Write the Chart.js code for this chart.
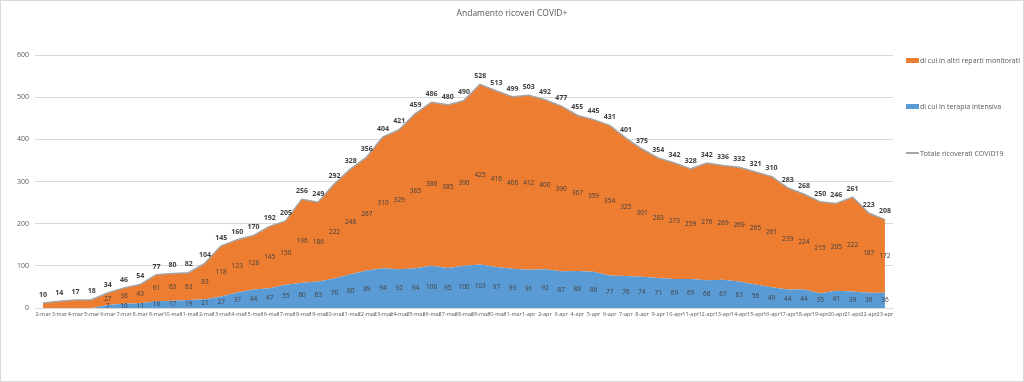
<!DOCTYPE html>
<html>
<head>
<meta charset="utf-8">
<script src="https://cdn.jsdelivr.net/npm/chart.js@4/dist/chart.umd.min.js"></script>
<style>
  html, body { margin: 0; padding: 0; background: #fff; }
  #wrap { position: relative; width: 1024px; height: 382px; box-sizing: border-box; border: 1px solid #d9d9d9; }
  #chart { position: absolute; left: 0; top: 0; }
  #title { position: absolute; left: 0; width: 1022px; top: 6px; text-align: center; font: 8.5px 'Open Sans', sans-serif; color: #595959; }
  .leg { position: absolute; left: 905px; font: 7px 'Open Sans', sans-serif; color: #595959; white-space: nowrap; }
  .leg i { display: inline-block; width: 13px; height: 5px; margin-right: 1px; vertical-align: 0px; }
  .leg i.line { height: 2px; vertical-align: 2px; }
</style>
</head>
<body>
<div id="wrap">
  <canvas id="chart" width="1022" height="380"></canvas>
  <div id="title">Andamento ricoveri COVID+</div>
  <div class="leg" style="top:55px"><i style="background:#ED7D31"></i>di cui in altri reparti monitorati</div>
  <div class="leg" style="top:101px"><i style="background:#5B9BD5"></i>di cui in terapia intensiva</div>
  <div class="leg" style="top:148px"><i class="line" style="background:#A5A5A5"></i>Totale ricoverati COVID19</div>
</div>
<script>
const dates = [
  '2-mar','3-mar','4-mar','5-mar','6-mar','7-mar','8-mar','9-mar','10-mar','11-mar','12-mar','13-mar','14-mar','15-mar','16-mar',
  '17-mar','18-mar','19-mar','20-mar','21-mar','22-mar','23-mar','24-mar','25-mar','26-mar','27-mar','28-mar','29-mar','30-mar','31-mar',
  '1-apr','2-apr','3-apr','4-apr','5-apr','6-apr','7-apr','8-apr','9-apr','10-apr','11-apr','12-apr','13-apr','14-apr','15-apr',
  '16-apr','17-apr','18-apr','19-apr','20-apr','21-apr','22-apr','23-apr'
];

const totale = [10,14,17,18,34,46,54,77,80,82,104,145,160,170,192,205,256,249,292,328,356,404,421,459,486,480,490,528,513,499,
  503,492,477,455,445,431,401,375,354,342,328,342,336,332,321,310,283,268,250,246,261,223,208];

const terapiaIntensiva = [0,0,0,0,7,10,11,16,17,19,21,27,37,44,47,55,60,63,70,80,89,94,92,94,100,95,100,103,97,93,
  91,92,87,88,86,77,76,74,71,69,69,66,67,63,56,49,44,44,35,41,39,36,36];

const altriReparti = [10,14,17,18,27,36,43,61,63,63,83,118,123,126,145,150,196,186,222,248,267,310,329,365,386,385,390,425,416,406,
  412,400,390,367,359,354,325,301,283,273,259,276,269,269,265,261,239,224,215,205,222,187,172];

const yTicks = [0, 100, 200, 300, 400, 500, 600];

// value labels drawn on the points
const valueLabels = {
  id: 'valueLabels',
  afterDatasetsDraw(chart) {
    const ctx = chart.ctx;
    const base = chart.scales.y.getPixelForValue(0);
    const icu = chart.getDatasetMeta(0).data;
    const alt = chart.getDatasetMeta(1).data;
    const tot = chart.getDatasetMeta(2).data;
    ctx.save();
    ctx.textAlign = 'center';
    ctx.textBaseline = 'middle';
    ctx.fillStyle = '#404040';
    tot.forEach((p, i) => {
      ctx.font = 'bold 7px "Open Sans", sans-serif';
      ctx.fillText(totale[i], p.x, p.y - 9);
      if (terapiaIntensiva[i] > 0) {
        ctx.font = '6.5px "Open Sans", sans-serif';
        ctx.fillText(altriReparti[i], alt[i].x, (alt[i].y + icu[i].y) / 2);
        ctx.fillText(terapiaIntensiva[i], icu[i].x, (icu[i].y + base) / 2);
      }
    });
    ctx.restore();
  }
};

new Chart(document.getElementById('chart').getContext('2d'), {
  type: 'line',
  data: {
    labels: dates,
    datasets: [
      { label: 'di cui in terapia intensiva', data: terapiaIntensiva, stack: 'a',
        backgroundColor: '#5B9BD5', borderWidth: 0, fill: 'origin', pointRadius: 0, tension: 0 },
      { label: 'di cui in altri reparti monitorati', data: altriReparti, stack: 'a',
        backgroundColor: '#ED7D31', borderWidth: 0, fill: '-1', pointRadius: 0, tension: 0 },
      { label: 'Totale ricoverati COVID19', data: totale, stack: 'tot',
        borderColor: '#A5A5A5', borderWidth: 3, fill: false, pointRadius: 0, tension: 0 },
    ],
  },
  options: {
    responsive: false,
    animation: false,
    layout: { padding: { left: 0, right: 130, top: 54, bottom: 0 } },
    plugins: {
      legend: { display: false },
      tooltip: { enabled: false },
    },
    scales: {
      x: {
        offset: true,
        grid: { display: false, drawTicks: false },
        border: { display: true, color: '#d9d9d9' },
        ticks: {
          autoSkip: false, maxRotation: 0, minRotation: 0, padding: 3,
          color: '#595959', font: { size: 5.5, family: 'Open Sans, sans-serif' },
        },
        afterFit: s => { s.height = 73; },
      },
      y: {
        stacked: true,
        min: 0, max: 600,
        afterBuildTicks: s => { s.ticks = yTicks.map(v => ({ value: v })); },
        grid: { color: '#d9d9d9', drawTicks: false },
        border: { display: false },
        ticks: { padding: 6, color: '#595959', font: { size: 7, family: 'Open Sans, sans-serif' } },
        afterFit: s => { s.width = 34; },
      },
    },
  },
  plugins: [valueLabels],
});
</script>
</body>
</html>
